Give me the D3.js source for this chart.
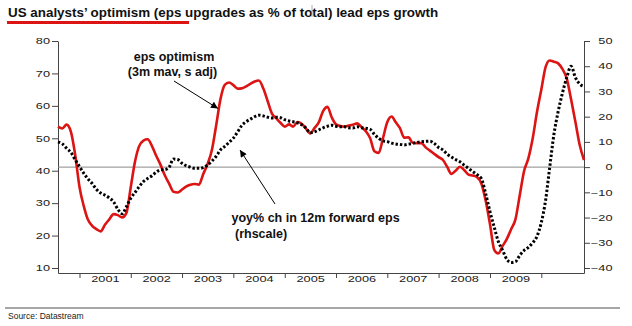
<!DOCTYPE html>
<html><head><meta charset="utf-8">
<script src="https://cdn.jsdelivr.net/npm/d3@7"></script>
<style>
html,body{margin:0;padding:0;background:#fff;}
svg{display:block;font-family:"Liberation Sans",Arial,Helvetica,sans-serif;}
</style></head>
<body><svg id="c" width="632" height="326"></svg>
<script>
// ---- data (monthly, Aug 2000 .. Nov 2010) ----
const startMonth = new Date(2000, 7, 1);
const endMonth = new Date(2010, 10, 1);
const months = d3.timeMonth.range(startMonth, d3.timeMonth.offset(endMonth, 1));

// eps optimism (3m mav, s adj) - left scale
const epsOptimism = [
  53.6,53,54.2,52,45,35,29,25,23,22,21.3,23.3,
  25,26.6,26.3,25.6,27,35,43,47.5,49.3,49.7,47.6,44.6,
  41.8,38.5,36,33.5,33.3,34.2,35.2,35.7,35.9,35.7,39,42,
  46.3,54,62,66.5,67.2,66.4,65.3,65.4,66,66.8,67.5,67.8,
  65.4,61.5,57.7,56.2,54.8,53.6,54.3,53.6,55,54.5,53,51.5,
  53.2,55,58.4,59.7,56.5,54.3,53.8,53.6,53.9,54.2,54.6,53.5,
  52.2,50,46,45.5,50,55,56.7,55,53.1,50.2,50.3,48.6,
  48.5,48.5,47.2,46.2,45.2,44.2,43.3,41.3,39,40,41.2,40.2,
  38.8,38.5,38,36,30.8,23.5,15.5,14.5,16.8,19,22,25,
  32.5,40,43.8,50,58,65,72,74,73.6,73.1,71.3,68.5,
  62,55,48,43.3
];
// yoy% ch in 12m forward eps - right scale
const fwdEpsGrowth = [
  10,9.2,7.5,5.8,3,0.2,-2.5,-4.6,-6.5,-8.8,-10.3,-11.1,
  -12.2,-13.8,-16.7,-18.5,-15.7,-12.3,-10,-7.8,-5.7,-4.5,-3.4,-2,
  -1.1,-1,0,3.2,3,1.5,0.5,0,-0.5,-0.5,-0.2,0.8,
  2.3,4.3,6.8,8.2,9.8,11.5,14,16.5,18,19,20,20.6,
  20.3,19.8,19.5,19.8,19.6,18.8,18.3,18,17.6,16.8,15.5,13.6,
  14,14.8,15.6,16.2,16.6,16.2,16,16,15.6,15.5,16,15.6,
  15.4,15,13,11.4,10.4,10.1,9.5,9.2,9,8.8,9.1,9.4,
  9.8,10.1,10.2,10.3,9.4,7.8,6.8,5.2,4,3,2.1,0.8,
  -0.5,-1.8,-3,-4.6,-10.5,-17.7,-24,-29.5,-33,-36.6,-37.8,-37.5,
  -35,-33,-31.8,-30,-27.5,-22,-13,-0.5,13,22,29.5,35.5,
  40,35.5,33,32
];
const leftTicks = [10,20,30,40,50,60,70,80];
const rightTicks = [-40,-30,-20,-10,0,10,20,30,40,50];
const yearLabels = [2001,2002,2003,2004,2005,2006,2007,2008,2009];

const titleText = "US analysts\u2019 optimism (eps upgrades as % of total) lead eps growth";
const sourceText = "Source: Datastream";

// ---- layout ----
const svg = d3.select("#c");
svg.append("rect").attr("width",632).attr("height",326).attr("fill","#fff");
const L = 58, R = 584, T = 41, B = 273;

const x = d3.scaleTime().domain([startMonth, endMonth]).range([L, R]);
const yL = d3.scaleLinear().domain([10 - 5/(227/70), 80]).range([B, T]);
const yR = d3.scaleLinear().domain([-40 - 5/(227/90), 50]).range([B, T]);

const SX = 1.5; // horizontal stretch of axis label font
const labelFont = 8.5;

// left axis
const gL = svg.append("g").attr("transform",`translate(${L},0)`);
gL.call(d3.axisLeft(yL).tickValues(d3.range(10,81,2)).tickSize(3).tickFormat("").tickSizeOuter(0));
gL.call(d3.axisLeft(yL).tickValues(leftTicks).tickSize(6).tickSizeOuter(0));
gL.selectAll("text").attr("x", -8/SX).attr("transform",`scale(${SX},1)`)
  .attr("font-size",labelFont).attr("fill","#222").attr("font-family",null);

// right axis
const gR = svg.append("g").attr("transform",`translate(${R},0)`);
gR.call(d3.axisRight(yR).tickValues(d3.range(-40,51,2)).tickSize(3).tickFormat("").tickSizeOuter(0));
gR.call(d3.axisRight(yR).tickValues(rightTicks).tickSize(6).tickSizeOuter(0));
gR.selectAll("text").attr("text-anchor","end").attr("x", 28.5/SX).attr("transform",`scale(${SX},1)`)
  .attr("font-size",labelFont).attr("fill","#222").attr("font-family",null);

// bottom axis
const gB = svg.append("g").attr("transform",`translate(0,${B})`);
const monthTicks = d3.timeMonth.range(startMonth, d3.timeMonth.offset(endMonth,1))
  .filter(d => d.getMonth() < 3 || d.getMonth() > 8 || d.getFullYear() > 2009);
gB.call(d3.axisBottom(x).tickValues(monthTicks).tickSize(3).tickFormat("").tickSizeOuter(0));
gB.call(d3.axisBottom(x).tickValues(d3.timeYear.range(new Date(2001,0,1), endMonth)).tickSize(5).tickFormat("").tickSizeOuter(0));
const gBL = svg.append("g").attr("transform",`translate(0,${B})`);
gBL.call(d3.axisBottom(x).tickValues(yearLabels.map(yv => new Date(yv,6,1))).tickSize(0).tickFormat(d3.timeFormat("%Y")));
gBL.select(".domain").remove();
gBL.selectAll("text").attr("y",8.6).attr("dy",0).attr("x",0).attr("transform",`scale(${SX},1)`)
  .attr("font-size",labelFont).attr("fill","#222").attr("font-family",null);

svg.selectAll(".domain").attr("stroke","#444");
svg.selectAll(".tick line").attr("stroke","#444");

// zero line (right scale)
svg.append("line").attr("x1",L).attr("x2",R).attr("y1",yR(0)).attr("y2",yR(0))
  .attr("stroke","#8a8a8a").attr("stroke-width",1);

// lines
const lineL = d3.line().x((d,i)=>x(months[i])).y(d=>yL(d)).curve(d3.curveMonotoneX);
const lineR = d3.line().x((d,i)=>x(months[i])).y(d=>yR(d)).curve(d3.curveMonotoneX);
svg.append("path").datum(epsOptimism).attr("d",lineL).attr("fill","none")
  .attr("stroke","#dc1414").attr("stroke-width",2.6).attr("stroke-linejoin","round");
svg.append("path").datum(fwdEpsGrowth).attr("d",lineR).attr("fill","none")
  .attr("stroke","#000").attr("stroke-width",3).attr("stroke-dasharray","2.4,2");

// arrows
const defs = svg.append("defs");
defs.append("marker").attr("id","ah").attr("viewBox","0 0 10 10").attr("refX",10).attr("refY",5)
  .attr("markerWidth",10).attr("markerHeight",7).attr("markerUnits","userSpaceOnUse").attr("orient","auto")
  .append("path").attr("d","M0,0 L10,5 L0,10 z").attr("fill","#000");
svg.append("line").attr("x1",174).attr("y1",81).attr("x2",218).attr("y2",108.5)
  .attr("stroke","#000").attr("stroke-width",1).attr("marker-end","url(#ah)");
svg.append("line").attr("x1",275).attr("y1",204).attr("x2",240).attr("y2",150)
  .attr("stroke","#000").attr("stroke-width",1).attr("marker-end","url(#ah)");

// annotations
const ann = svg.append("g").attr("font-weight","bold").attr("font-size",12.5).attr("fill","#111");
ann.append("text").attr("x",174).attr("y",61).attr("text-anchor","middle").text("eps optimism");
ann.append("text").attr("x",172.5).attr("y",75.5).attr("text-anchor","middle").text("(3m mav, s adj)");
ann.append("text").attr("x",231.5).attr("y",221.5).text("yoy% ch in 12m forward eps");
ann.append("text").attr("x",235).attr("y",237.5).text("(rhscale)");

// title
svg.append("text").attr("x",8).attr("y",16.5).attr("font-weight","bold").attr("font-size",13.4)
  .attr("fill","#111").text(titleText);
svg.append("line").attr("x1",312).attr("x2",312).attr("y1",5).attr("y2",17).attr("stroke","#999").attr("stroke-width",0.8);
svg.append("rect").attr("x",7).attr("y",21).attr("width",182).attr("height",3).attr("fill","#dc1414");

// source
svg.append("line").attr("x1",5).attr("x2",620).attr("y1",308).attr("y2",308).attr("stroke","#888").attr("stroke-width",1.5);
svg.append("text").attr("x",8).attr("y",318.5).attr("font-size",8.5).attr("fill","#222").text(sourceText);
</script></body></html>
